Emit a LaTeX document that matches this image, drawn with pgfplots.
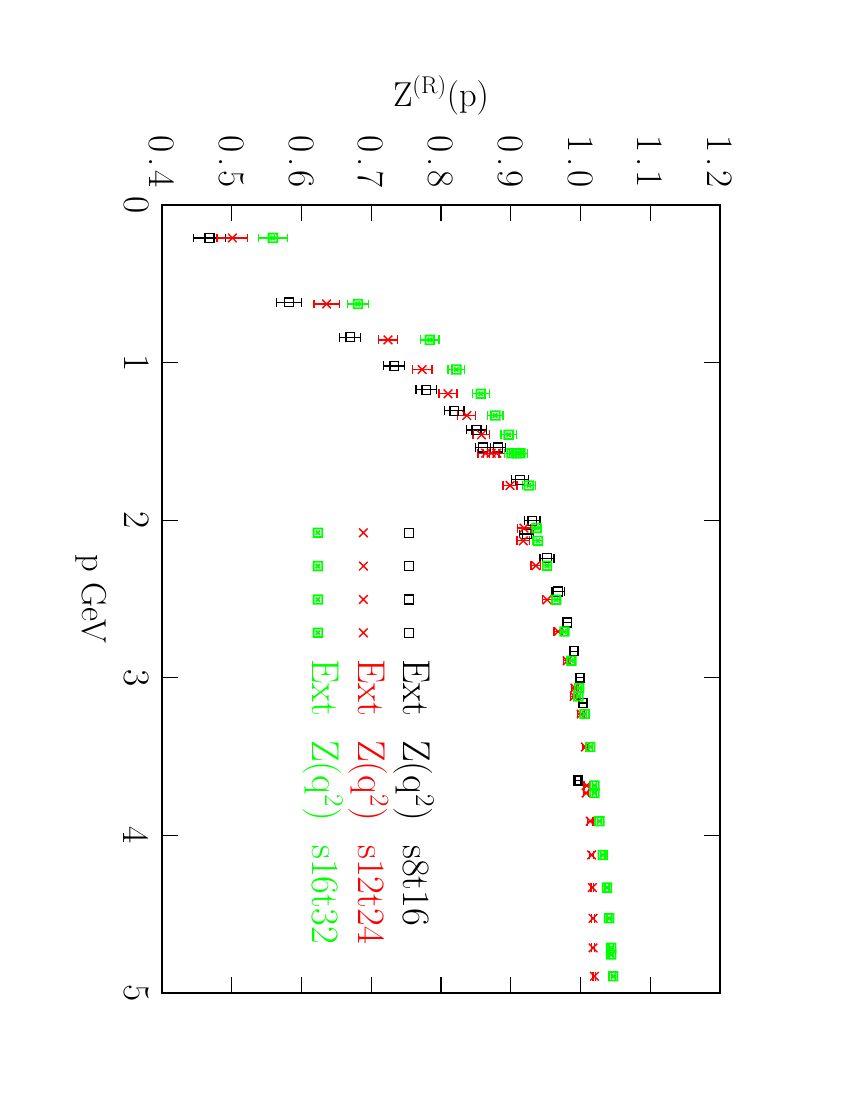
\documentclass[border=0pt]{standalone}
\usepackage{fontspec}
\usepackage{pgfplots}
\usepackage{pgfplotstable}
\pgfplotsset{compat=1.18}

% square with a small cross inside
\pgfdeclareplotmark{boxx}{%
  \pgfpathrectangle{\pgfqpoint{-\pgfplotmarksize}{-\pgfplotmarksize}}{\pgfqpoint{2\pgfplotmarksize}{2\pgfplotmarksize}}%
  \pgfpathmoveto{\pgfqpoint{-0.5\pgfplotmarksize}{-0.5\pgfplotmarksize}}%
  \pgfpathlineto{\pgfqpoint{0.5\pgfplotmarksize}{0.5\pgfplotmarksize}}%
  \pgfpathmoveto{\pgfqpoint{-0.5\pgfplotmarksize}{0.5\pgfplotmarksize}}%
  \pgfpathlineto{\pgfqpoint{0.5\pgfplotmarksize}{-0.5\pgfplotmarksize}}%
  \pgfusepathqstroke}

\newcommand{\bigfont}{\fontsize{25}{25}\selectfont}
\newcommand{\tickfont}{\fontsize{27}{27}\selectfont}
\newcommand{\legfont}{\fontsize{28}{28}\selectfont}
\newcommand{\entry}[1]{Ext\hspace{0.62em}Z(q\textsuperscript{2})\hspace{0.62em}#1}
\newcommand{\dn}[2]{#1\kern3pt.\kern3pt#2}

% s8t16
\pgfplotstableread{
p Z e
0.209 0.468 0.023
0.617 0.582 0.018
0.839 0.670 0.015
1.021 0.733 0.015
1.173 0.779 0.015
1.306 0.819 0.014
1.427 0.851 0.014
1.539 0.860 0.011
1.539 0.882 0.011
1.744 0.913 0.012
2.004 0.931 0.011
2.088 0.923 0.010
2.241 0.952 0.010
2.452 0.968 0.009
2.649 0.981 0.006
2.831 0.991 0.005
2.999 0.999 0.005
3.160 1.004 0.005
3.651 0.996 0.004
}\blackdata

% s12t24
\pgfplotstableread{
p Z e
0.209 0.501 0.022
0.628 0.636 0.018
0.856 0.724 0.014
1.044 0.773 0.014
1.198 0.810 0.013
1.336 0.837 0.013
1.458 0.858 0.012
1.575 0.864 0.011
1.575 0.872 0.011
1.575 0.880 0.011
1.780 0.899 0.010
2.050 0.919 0.009
2.131 0.918 0.009
2.289 0.936 0.007
2.505 0.952 0.006
2.706 0.968 0.006
2.892 0.981 0.005
3.065 0.992 0.005
3.118 0.991 0.005
3.230 1.001 0.005
3.439 1.007 0.004
3.684 1.009 0.004
3.731 1.008 0.004
3.910 1.014 0.004
4.124 1.016 0.003
4.331 1.017 0.002
4.526 1.018 0.002
4.714 1.018 0.002
4.894 1.020 0.002
}\reddata

% s16t32
\pgfplotstableread{
p Z e
0.209 0.559 0.021
0.628 0.681 0.015
0.856 0.784 0.013
1.044 0.822 0.012
1.198 0.857 0.012
1.336 0.878 0.011
1.458 0.897 0.011
1.575 0.901 0.010
1.575 0.908 0.010
1.575 0.914 0.010
1.780 0.926 0.009
2.050 0.937 0.007
2.131 0.939 0.007
2.289 0.952 0.006
2.505 0.965 0.005
2.706 0.977 0.004
2.892 0.987 0.004
3.065 0.998 0.003
3.118 0.997 0.003
3.230 1.006 0.003
3.439 1.014 0.003
3.684 1.020 0.003
3.731 1.020 0.003
3.910 1.027 0.003
4.124 1.032 0.003
4.331 1.038 0.003
4.526 1.041 0.003
4.714 1.044 0.003
4.756 1.044 0.003
4.894 1.047 0.003
}\greendata

\begin{document}
\rotatebox{-90}{%
\begin{tikzpicture}
\path[use as bounding box] (-2.05in,-1.62in) rectangle (8.95in,6.88in);
\begin{axis}[
    at={(0,0)}, anchor=south west,
    scale only axis,
    width=7.88in, height=5.58in,
    xmin=0, xmax=5,
    ymin=0.4, ymax=1.2,
    xtick={0,1,2,3,4,5},
    ytick={0.4,0.5,0.6,0.7,0.8,0.9,1.0,1.1,1.2},
    yticklabels={\dn04,\dn05,\dn06,\dn07,\dn08,\dn09,\dn10,\dn11,\dn12},
    minor tick num=0,
    tick align=inside,
    major tick length=0.155in,
    axis line style={line width=0.9pt},
    tick style={line width=0.9pt, black},
    /pgf/number format/assume math mode=true,
    tick label style={font=\tickfont},
    yticklabel style={xshift=-9pt},
    xticklabel style={yshift=-6pt},
    label style={font=\bigfont},
    xlabel={p GeV},
    ylabel={Z\textsuperscript{(R)}(p)},
    xlabel style={at={(axis description cs:0.5,-0.127)}, anchor=center},
    ylabel style={at={(axis description cs:-0.139,0.5)}, anchor=center},
    legend style={draw=none, fill=none, at={(axis cs:2.05,0.787)}, anchor=north west,
        font=\legfont, column sep=0.22in, inner sep=0pt,
        nodes={inner sep=0pt, text height=0.28in, text depth=0.175in}},
    legend cell align=left,
    legend image code/.code={\draw[#1, only marks] plot coordinates {(0in,0in) (0.333in,0in) (0.667in,0in) (1in,0in)};},
    error bars/error bar style={line width=0.9pt},
    error bars/error mark options={rotate=90, mark size=3.2pt, line width=0.9pt},
]
\addplot[only marks, black, mark=square, mark size=3.2pt, line width=1pt,
    error bars/.cd, y dir=both, y explicit]
    table[x=p, y=Z, y error=e] {\blackdata};
\addlegendentry{\entry{s8t16}}
\addplot[only marks, red, mark=x, mark size=4.4pt, line width=1pt,
    error bars/.cd, y dir=both, y explicit]
    table[x=p, y=Z, y error=e] {\reddata};
\addlegendentry[text=red]{\entry{s12t24}}
\addplot[only marks, green, mark=boxx, mark size=3.1pt, line width=1.3pt,
    error bars/.cd, y dir=both, y explicit]
    table[x=p, y=Z, y error=e] {\greendata};
\addlegendentry[text=green]{\entry{s16t32}}
\end{axis}
\end{tikzpicture}}
\end{document}
